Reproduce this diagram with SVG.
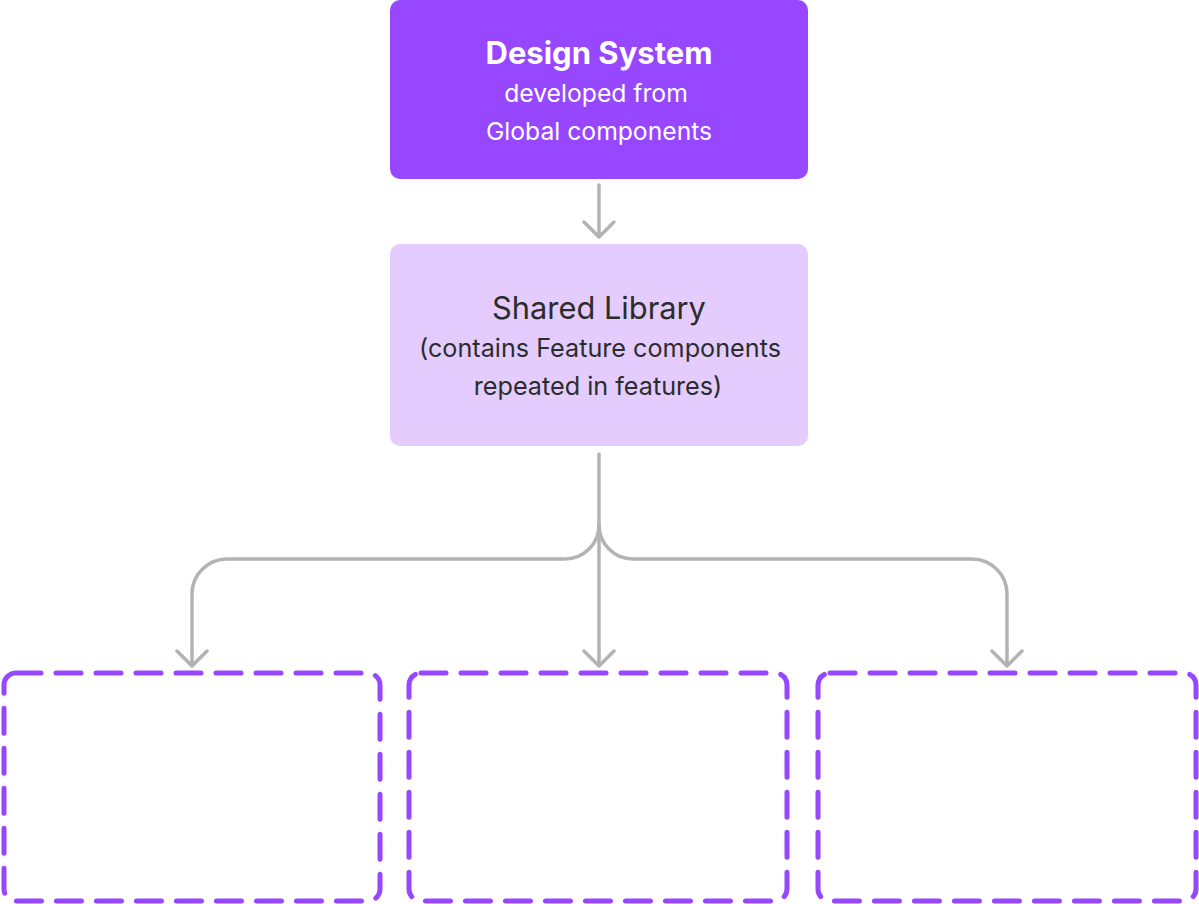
<svg xmlns="http://www.w3.org/2000/svg" width="1199" height="904" viewBox="0 0 1199 904">
<style>
  text { font-family: Inter, "Noto Sans", "Liberation Sans", sans-serif; text-anchor: middle; }
  .t1 { font-size: 31px; font-weight: 700; fill: #FFFFFF; }
  .s1 { font-size: 24.7px; fill: #FFFFFF; }
  .t2 { font-size: 30.8px; fill: #2C2C2C; }
  .s2 { font-size: 25.2px; fill: #2C2C2C; }
  .dash { fill: none; stroke: #9747FF; stroke-width: 5; stroke-dasharray: 25 15; stroke-linecap: round; }
  .conn { fill: none; stroke: #B3B3B3; stroke-width: 3.5; stroke-linecap: round; stroke-linejoin: round; }
</style>
<rect width="1199" height="904" fill="#FFFFFF"/>
<g id="design-system">
  <rect x="390" y="0" width="418" height="179" rx="10" fill="#9747FF"/>
  <text class="t1" x="599" y="64">Design System</text>
  <text class="s1" x="596" y="102">developed from</text>
  <text class="s1" x="599" y="140">Global components</text>
</g>
<g id="shared-library">
  <rect x="390" y="244" width="418" height="202" rx="10" fill="#E4CCFF"/>
  <text class="t2" x="599" y="319">Shared Library</text>
  <text class="s2" x="600" y="357">(contains Feature components</text>
  <text class="s2" x="598" y="395">repeated in features)</text>
</g>
<g id="feature-1">
  <rect class="dash" x="4" y="673" width="376" height="228" rx="12"/>
</g>
<g id="feature-2">
  <rect class="dash" x="409" y="673" width="378" height="228" rx="12"/>
</g>
<g id="feature-3">
  <rect class="dash" x="818" y="673" width="378" height="228" rx="12"/>
</g>
<g id="connectors">
  <path class="conn" d="M599 185 V236 M584 222 L599 237 L614 222"/>
  <path class="conn" d="M599 454 V666 M584 651 L599 666 L614 651"/>
  <path class="conn" d="M599 525 A34 34 0 0 1 565 559 H227 A35 35 0 0 0 192 594 V666 M177 651 L192 666 L207 651"/>
  <path class="conn" d="M599 525 A34 34 0 0 0 633 559 H972 A35 35 0 0 1 1007 594 V666 M992 651 L1007 666 L1022 651"/>
</g>
</svg>
